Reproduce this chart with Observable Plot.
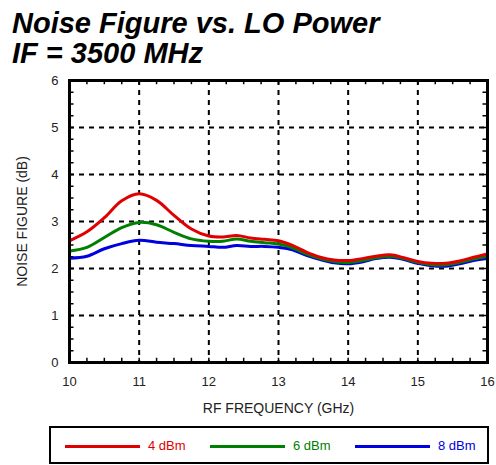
<!DOCTYPE html>
<html><head><meta charset="utf-8">
<script src="https://cdn.jsdelivr.net/npm/d3@7"></script>
<script src="https://cdn.jsdelivr.net/npm/@observablehq/plot@0.6"></script>
<style>
body{margin:0;background:#fff;font-family:"Liberation Sans",Arial,sans-serif;}
#wrap{position:relative;width:496px;height:465px;overflow:hidden;}
.title{position:absolute;left:12px;font-weight:bold;font-style:italic;font-size:29px;line-height:29px;color:#000;white-space:nowrap;}
#chart{position:absolute;left:0;top:70px;}
#legend{position:absolute;left:49px;top:426px;width:436px;height:34px;border:2px solid #000;box-sizing:content-box;}
.lg{position:absolute;top:0;height:34px;}
.lg .ln{position:absolute;top:17px;height:3px;width:75px;}
.lg .tx{position:absolute;top:10px;font-size:13px;line-height:16px;white-space:nowrap;}
</style></head>
<body><div id="wrap">
<div class="title" style="top:9px">Noise Figure vs. LO Power</div>
<div class="title" style="top:39px">IF = 3500 MHz</div>
<div id="chart"></div>
<div id="legend"></div>
</div>
<script>
const freq = [10,10.25,10.5,10.75,11,11.25,11.5,11.75,12,12.2,12.4,12.6,12.8,13,13.2,13.4,13.6,13.8,14,14.2,14.4,14.6,14.8,15,15.2,15.4,15.6,15.8,16];
const nf4dBm = [2.59,2.78,3.08,3.44,3.59,3.45,3.13,2.84,2.69,2.67,2.70,2.65,2.62,2.59,2.49,2.35,2.24,2.18,2.17,2.21,2.26,2.29,2.23,2.15,2.11,2.11,2.16,2.24,2.31];
const nf6dBm = [2.37,2.45,2.66,2.87,2.98,2.93,2.77,2.63,2.58,2.58,2.63,2.58,2.55,2.52,2.44,2.31,2.21,2.15,2.13,2.17,2.23,2.26,2.21,2.13,2.08,2.08,2.13,2.20,2.26];
const nf8dBm = [2.22,2.26,2.42,2.53,2.60,2.56,2.53,2.49,2.47,2.45,2.49,2.47,2.47,2.45,2.40,2.28,2.19,2.12,2.10,2.14,2.21,2.24,2.19,2.11,2.06,2.05,2.10,2.17,2.21];
const seriesNames = ["4 dBm","6 dBm","8 dBm"];
const seriesColors = ["#e00000","#008000","#0000e0"];
const seriesValues = [nf4dBm, nf6dBm, nf8dBm];
const xTicks = [10,11,12,13,14,15,16];
const yTicks = [0,1,2,3,4,5,6];

const rows = [];
seriesNames.forEach((s,i)=>freq.forEach((f,j)=>rows.push({series:s, f, v:seriesValues[i][j], order:i})));

const minorX = d3.range(10,16.001,0.25);
const minorY = d3.range(0,6.001,0.25);
const gridX = xTicks.slice(1,-1), gridY = yTicks.slice(1,-1);

const marks = [
  Plot.ruleX(gridX,{stroke:"#000",strokeWidth:2,strokeDasharray:"5,5"}),
  Plot.ruleY(gridY,{stroke:"#000",strokeWidth:2,strokeDasharray:"5,5"}),
  Plot.ruleX(minorX,{y1:0,y2:0.09,stroke:"#000",strokeWidth:1.5}),
  Plot.ruleX(minorX,{y1:5.91,y2:6,stroke:"#000",strokeWidth:1.5}),
  Plot.ruleY(minorY,{x1:10,x2:10.065,stroke:"#000",strokeWidth:1.5}),
  Plot.ruleY(minorY,{x1:15.935,x2:16,stroke:"#000",strokeWidth:1.5}),
];
[2,1,0].forEach(i=>{
  marks.push(Plot.line(rows.filter(r=>r.order===i),{x:"f",y:"v",stroke:seriesColors[i],strokeWidth:3,curve:"catmull-rom"}));
});
marks.push(
  Plot.frame({stroke:"#000",strokeWidth:3}),
  Plot.axisX(xTicks,{tickSize:0,tickPadding:14,fontSize:13,fill:"#222",label:null}),
  Plot.axisY(yTicks,{tickSize:0,tickPadding:11,fontSize:13,fill:"#222",label:null}),
  Plot.text(["RF FREQUENCY (GHz)"],{frameAnchor:"bottom",dy:50,fontSize:14,fill:"#222"}),
  Plot.text(["NOISE FIGURE (dB)"],{frameAnchor:"left",textAnchor:"middle",dx:-47,rotate:-90,fontSize:14,fill:"#222"})
);

const chart = Plot.plot({
  width:496, height:350,
  marginLeft:69, marginRight:9, marginTop:10, marginBottom:58,
  style:{fontFamily:"'Liberation Sans', Arial, sans-serif",background:"#fff",overflow:"visible"},
  x:{domain:[10,16], label:null},
  y:{domain:[0,6], label:null},
  marks
});
document.getElementById("chart").appendChild(chart);

const lg = document.getElementById("legend");
const lgLeft = [14,159,304];
seriesNames.forEach((s,i)=>{
  const g = document.createElement("div"); g.className="lg"; g.style.left=lgLeft[i]+"px";
  const ln = document.createElement("div"); ln.className="ln"; ln.style.background=seriesColors[i];
  const tx = document.createElement("div"); tx.className="tx"; tx.style.left="83px"; tx.style.color=seriesColors[i]; tx.textContent=s;
  g.appendChild(ln); g.appendChild(tx); lg.appendChild(g);
});
</script>
</body></html>
